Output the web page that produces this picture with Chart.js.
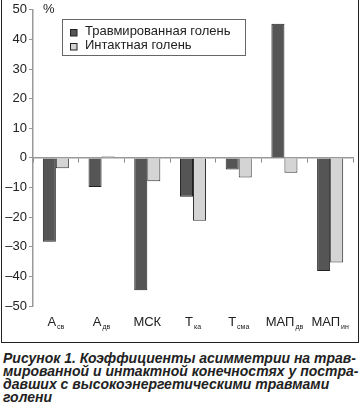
<!DOCTYPE html>
<html>
<head>
<meta charset="utf-8">
<script src="https://cdn.jsdelivr.net/npm/chart.js@4/dist/chart.umd.min.js"></script>
<style>
  html, body { margin: 0; padding: 0; background: #fff; width: 362px; height: 407px; overflow: hidden; }
  #frame { position: absolute; left: 1px; top: -2px; width: 358px; height: 345px; box-sizing: border-box; border: 1.5px solid #222; }
  #c { position: absolute; left: 0; top: 0; }
  #cap { position: absolute; left: 3px; top: 352px; width: 360px; font-family: "Liberation Sans", Arial, sans-serif; font-weight: bold; font-style: italic; font-size: 14px; line-height: 13px; color: #222; white-space: nowrap; }
</style>
</head>
<body>
<div id="frame"></div>
<canvas id="c" width="362" height="345"></canvas>
<div id="cap">Рисунок 1. Коэффициенты асимметрии на трав-<br>мированной и интактной конечностях у постра-<br>давших с высокоэнергетическими травмами<br>голени</div>
<script>
const categoryMain = ['А', 'А', 'МСК', 'Т', 'Т', 'МАП', 'МАП'];
const categorySub  = ['св', 'дв', '', 'ка', 'сма', 'дв', 'ин'];
const categories = categoryMain.map((m, i) => m + categorySub[i]);
const seriesNames = ['Травмированная голень', 'Интактная голень'];
const injured = [-28.3, -9.8, -44.7, -13.1, -3.9, 45.3, -38.2];
const intact  = [-3.5, 0.5, -7.9, -21.2, -6.6, -5.0, -35.3];
const yTicks = [-50, -40, -30, -20, -10, 0, 10, 20, 30, 40, 50];
const unitLabel = '%';

const FONT = '"Liberation Sans", Arial, sans-serif';
const colors = ['#555555', '#d4d4d4'];

const overlay = {
  id: 'overlay',
  afterDraw(chart) {
    const ctx = chart.ctx;
    const xs = chart.scales.x;
    ctx.save();
    ctx.fillStyle = '#222';
    ctx.font = '13px ' + FONT;
    ctx.textAlign = 'left';
    ctx.textBaseline = 'alphabetic';
    ctx.fillText(unitLabel, 43, 13);
    categoryMain.forEach((m, i) => {
      const cx = xs.getPixelForValue(i);
      ctx.font = '13px ' + FONT;
      const wm = ctx.measureText(m).width;
      ctx.font = '7px ' + FONT;
      const ws = categorySub[i] ? ctx.measureText(categorySub[i]).width + 1 : 0;
      const x0 = cx - (wm + ws) / 2;
      ctx.font = '13px ' + FONT;
      ctx.fillText(m, x0, 326);
      if (categorySub[i]) {
        ctx.font = '7px ' + FONT;
        ctx.fillText(categorySub[i], x0 + wm + 1, 329);
      }
    });
    ctx.strokeStyle = '#666';
    ctx.lineWidth = 1;
    ctx.strokeRect(62.5, 19.5, 183, 36);
    chart.data.datasets.forEach((ds, i) => {
      const y = 29 + i * 14;
      ctx.fillStyle = ds.backgroundColor;
      ctx.fillRect(70, y, 7, 7);
      ctx.strokeStyle = '#222';
      ctx.strokeRect(70.5, y + 0.5, 6.5, 6.5);
      ctx.fillStyle = '#222';
      ctx.font = '13px ' + FONT;
      ctx.textBaseline = 'middle';
      ctx.fillText(ds.label, 85, y + 2.5);
    });
    ctx.restore();
  }
};

new Chart(document.getElementById('c'), {
  type: 'bar',
  data: {
    labels: categories,
    datasets: [
      { label: seriesNames[0], data: injured, backgroundColor: colors[0], borderColor: '#222', borderWidth: 1 },
      { label: seriesNames[1], data: intact, backgroundColor: colors[1], borderColor: '#333', borderWidth: 1 }
    ]
  },
  options: {
    responsive: false,
    animation: false,
    devicePixelRatio: 1,
    categoryPercentage: 0.57,
    barPercentage: 1.0,
    layout: { padding: { top: 6, right: 9, bottom: 39, left: 0 } },
    plugins: { legend: { display: false }, tooltip: { enabled: false } },
    scales: {
      x: {
        type: 'category',
        position: { y: 0 },
        offset: true,
        grid: { display: true, drawOnChartArea: false, drawTicks: true, tickLength: 4, color: '#888', lineWidth: 1, offset: true },
        border: { display: true, color: '#999', width: 1.5 },
        ticks: { display: false },
        afterFit: s => { s.height = 0; }
      },
      y: {
        min: -50, max: 50,
        afterBuildTicks: s => { s.ticks = yTicks.map(v => ({ value: v })); },
        ticks: {
          font: { size: 13, family: FONT },
          color: '#222',
          padding: 2,
          callback: v => String(v).replace('-', '–')
        },
        grid: { drawOnChartArea: false, drawTicks: true, tickLength: 4, color: '#999' },
        border: { display: true, color: '#999', width: 1.5 },
        afterFit: s => { s.width = 33; }
      }
    }
  },
  plugins: [overlay]
});
</script>
</body>
</html>
